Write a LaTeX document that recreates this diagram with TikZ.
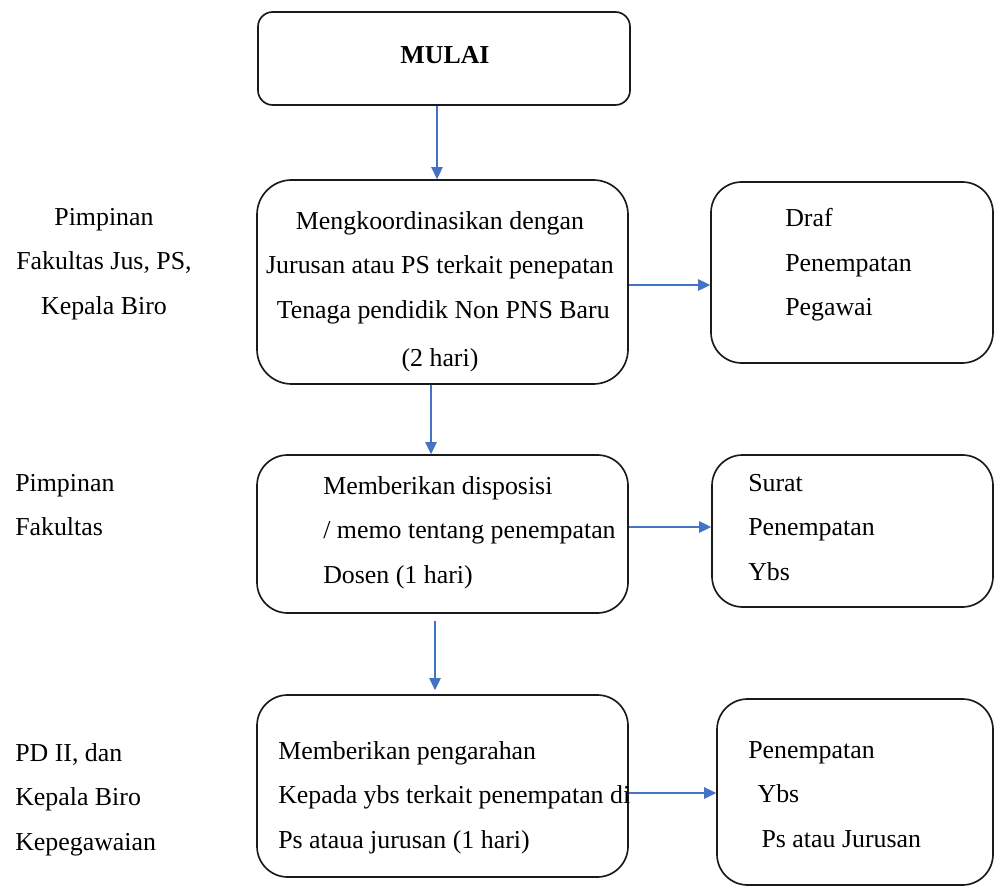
\documentclass[tikz,border=0pt]{standalone}
\usepackage{fontspec}
\setmainfont{Liberation Serif}
\usetikzlibrary{arrows.meta,fit}
\definecolor{arrowblue}{HTML}{4472C4}
\definecolor{boxline}{HTML}{1A1A1A}
\begin{document}
\begin{tikzpicture}[x=0.75pt,y=-0.75pt,
  box/.style={draw=boxline, line width=1.25pt, rounded corners=23pt, inner sep=0pt},
  startbox/.style={box, rounded corners=11pt},
  txt/.style={inner sep=0pt, font=\fontsize{19.4}{33.4}\selectfont},
  arr/.style={draw=arrowblue, line width=1.2pt, -{Triangle[length=9pt,width=8.5pt]}}]
\useasboundingbox (0,0) rectangle (995,887);
% boxes
\node[startbox, fit={(258,12)(630,105)}] (mulai) {};
\node[box, rounded corners=26pt, fit={(257,180)(628,384)}] (mk) {};
\node[box, fit={(711,182)(993,363)}] (draf) {};
\node[box, fit={(257,455)(628,613)}] (md) {};
\node[box, fit={(712,455)(993,607)}] (surat) {};
\node[box, fit={(257,695)(628,877)}] (mp) {};
\node[box, fit={(717,699)(993,885)}] (pen) {};
% texts in boxes
\node[txt, font=\fontsize{19.4}{33.4}\selectfont\bfseries] (mulait) at (445,55) {MULAI};
\node[txt, align=center, anchor=north] (mkt) at (440,211) {Mengkoordinasikan dengan\\Jurusan atau PS terkait penepatan\\\ Tenaga pendidik Non PNS Baru\\[3pt](2 hari)};
\node[txt, align=left, anchor=north west] (draft) at (785,208) {Draf\\Penempatan\\Pegawai};
\node[txt, align=left, anchor=north west] (mdt) at (323,476) {Memberikan disposisi\\/ memo tentang penempatan\\Dosen (1 hari)};
\node[txt, align=left, anchor=north west] (surt) at (748,474) {Surat\\Penempatan\\Ybs};
\node[txt, align=left, anchor=north west] (mpt) at (278,741) {Memberikan pengarahan\\Kepada ybs terkait penempatan di\\Ps ataua jurusan (1 hari)};
\node[txt, align=left, anchor=north west] (pent) at (748,741) {Penempatan\\\hspace*{7pt}Ybs\\\hspace*{10pt}Ps atau Jurusan};
% side labels
\node[txt, align=center, anchor=north] (lab1) at (104,208) {Pimpinan\\Fakultas Jus, PS,\\Kepala Biro};
\node[txt, align=left, anchor=north west] (lab2) at (15,474) {Pimpinan\\Fakultas};
\node[txt, align=left, anchor=north west] (lab3) at (15,743) {PD II, dan\\Kepala Biro\\Kepegawaian};
% connector guide coordinates
\coordinate (v0) at (437,0);
\coordinate (v1) at (431,0);
\coordinate (v2) at (435,0);
\coordinate (h1) at (0,285);
\coordinate (h2) at (0,527);
\coordinate (h3) at (0,793);
% connectors
\draw[arr] (mulai.south -| v0) -- (mk.north -| v0);
\draw[arr] (mk.east |- h1) -- (draf.west |- h1);
\draw[arr] (mk.south -| v1) -- (md.north -| v1);
\draw[arr] (md.east |- h2) -- (surat.west |- h2);
\draw[arr, shorten <=5pt, shorten >=3pt] (md.south -| v2) -- (mp.north -| v2);
\draw[arr] (mp.east |- h3) -- (pen.west |- h3);
\end{tikzpicture}
\end{document}
